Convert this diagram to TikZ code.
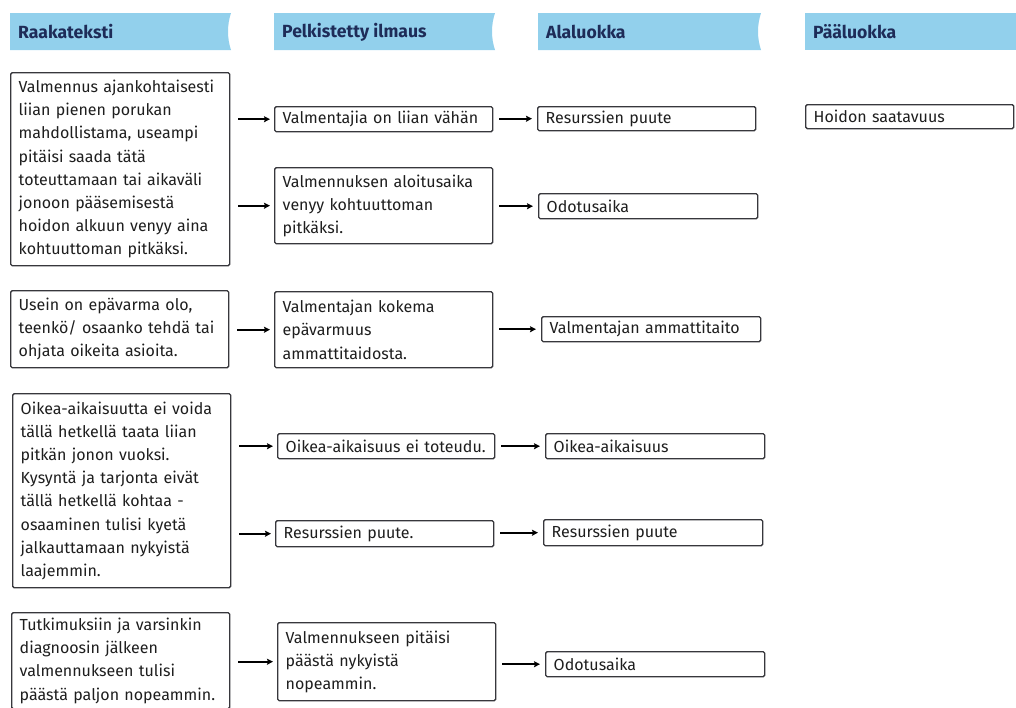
\documentclass[tikz,border=0pt]{standalone}
\usepackage{fontspec}
\setmainfont{Fira Sans}
\usetikzlibrary{arrows.meta}

\definecolor{headfill}{RGB}{146,208,236}
\definecolor{headtext}{RGB}{30,44,88}
\definecolor{boxline}{RGB}{55,55,60}
\definecolor{bodytext}{RGB}{30,30,30}

\tikzset{
  cell/.style={draw=boxline, line width=1.4pt, rounded corners=1.5pt, fill=white,
    anchor=north west, align=left, inner xsep=8pt, inner ysep=0pt,
    text=bodytext, font=\fontsize{16}{23.2}\selectfont},
  headlabel/.style={anchor=west, inner sep=0pt, text=headtext,
    font=\bfseries\fontsize{17.6}{19}\selectfont},
  flow/.style={line width=1.6pt, black, -{Stealth[length=6pt,width=6pt,inset=1pt]}},
}

% a box of given width/height with its top-left corner at (x,y)
\newcommand{\cellbox}[6]{%
  \node[cell, text width=#4pt-16pt, minimum width=#4pt, minimum height=#5pt]
    (#1) at (#2,#3) {#6};}

% a column heading ribbon with a shallow notch on its right end
\newcommand{\ribbon}[2]{%
  \fill[headfill] (#1,13) -- (#2,13)
    .. controls (#2-4,25) and (#2-4,38) .. (#2,50) -- (#1,50) -- cycle;}

\begin{document}
\begin{tikzpicture}[x=1pt,y=-1pt]
\useasboundingbox (0,0) rectangle (1016,707);
\clip (0,0) rectangle (1016,707);

% column headings
\ribbon{10}{231}
\ribbon{274}{495}
\ribbon{538}{761}
\fill[headfill] (805,13) rectangle (1016,50);
\node[headlabel] (h1) at (18,32) {Raakateksti};
\node[headlabel] (h2) at (282,32) {Pelkistetty ilmaus};
\node[headlabel] (h3) at (546,32) {Alaluokka};
\node[headlabel] (h4) at (813,32) {Pääluokka};

% raw text
\cellbox{a1}{10}{72}{219}{193}{Valmennus ajankohtaisesti\\liian pienen porukan\\mahdollistama, useampi\\pitäisi saada tätä\\toteuttamaan tai aikaväli\\jonoon pääsemisestä\\hoidon alkuun venyy aina\\kohtuuttoman pitkäksi.}
\cellbox{a2}{10}{290}{218}{77}{Usein on epävarma olo,\\teenkö/ osaanko tehdä tai\\ohjata oikeita asioita.}
\cellbox{a3}{12}{393}{218}{194}{Oikea-aikaisuutta ei voida\\tällä hetkellä taata liian\\pitkän jonon vuoksi.\\Kysyntä ja tarjonta eivät\\tällä hetkellä kohtaa -\\osaaminen tulisi kyetä\\jalkauttamaan nykyistä\\laajemmin.}
\cellbox{a4}{11}{612}{218}{96}{Tutkimuksiin ja varsinkin\\diagnoosin jälkeen\\valmennukseen tulisi\\päästä paljon nopeammin.}

% reduced expressions
\cellbox{b1}{274}{106}{218}{25}{Valmentajia on liian vähän}
\cellbox{b2}{274}{167}{218}{76}{Valmennuksen aloitusaika\\venyy kohtuuttoman\\pitkäksi.}
\cellbox{b3}{274}{291}{218}{76}{Valmentajan kokema\\epävarmuus\\ammattitaidosta.}
\cellbox{b4}{277}{433}{217}{25}{Oikea-aikaisuus ei toteudu.}
\cellbox{b5}{275}{520}{218}{26}{Resurssien puute.}
\cellbox{b6}{277}{622}{218}{78}{Valmennukseen pitäisi\\päästä nykyistä\\nopeammin.}

% subcategories
\cellbox{c1}{537}{106}{218}{24}{Resurssien puute}
\cellbox{c2}{538}{193}{219}{25}{Odotusaika}
\cellbox{c3}{541}{316}{219}{25}{Valmentajan ammattitaito}
\cellbox{c4}{545}{433}{219}{25}{Oikea-aikaisuus}
\cellbox{c5}{543}{519}{219}{26}{Resurssien puute}
\cellbox{c6}{545}{651}{219}{25}{Odotusaika}

% main category
\cellbox{d1}{805}{104}{208}{24}{Hoidon saatavuus}

% raw text -> reduced expression
\draw[flow] ([xshift=8pt]a1.east |- b1.west) -- ([xshift=-4pt]b1.west);
\draw[flow] ([xshift=8pt]a1.east |- b2.west) -- ([xshift=-4pt]b2.west);
\draw[flow] ([xshift=8pt]a2.east |- b3.west) -- ([xshift=-4pt]b3.west);
\draw[flow] ([xshift=8pt]a3.east |- b4.west) -- ([xshift=-4pt]b4.west);
\draw[flow] ([xshift=8pt]a3.east |- b5.west) -- ([xshift=-4pt]b5.west);
\draw[flow] ([xshift=8pt]a4.east |- b6.west) -- ([xshift=-4pt]b6.west);

% reduced expression -> subcategory
\draw[flow] ([xshift=6pt]b1.east |- c1.west) -- ([xshift=-5pt]c1.west);
\draw[flow] ([xshift=6pt]b2.east |- c2.west) -- ([xshift=-5pt]c2.west);
\draw[flow] ([xshift=6pt]b3.east |- c3.west) -- ([xshift=-5pt]c3.west);
\draw[flow] ([xshift=6pt]b4.east |- c4.west) -- ([xshift=-5pt]c4.west);
\draw[flow] ([xshift=6pt]b5.east |- c5.west) -- ([xshift=-5pt]c5.west);
\draw[flow] ([xshift=6pt]b6.east |- c6.west) -- ([xshift=-5pt]c6.west);
\end{tikzpicture}
\end{document}
